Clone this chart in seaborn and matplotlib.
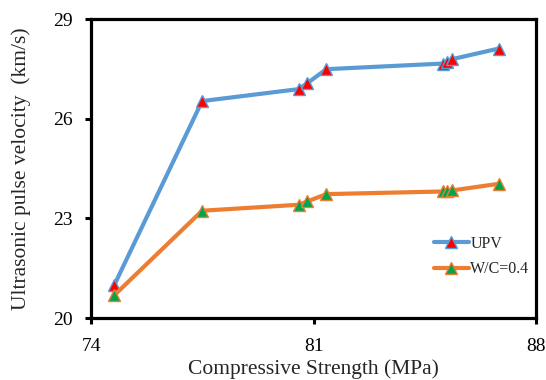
import numpy as np
import pandas as pd
import seaborn as sns
import matplotlib
matplotlib.use("Agg")
import matplotlib.pyplot as plt

# values
strength = [74.73, 77.49, 80.53, 80.80, 81.40, 85.08, 85.19, 85.35, 86.82]
upv = [21.00, 26.53, 26.89, 27.07, 27.49, 27.66, 27.70, 27.79, 28.11]
wc04 = [20.69, 23.23, 23.41, 23.51, 23.73, 23.81, 23.82, 23.84, 24.04]

x_ticks = [74, 81, 88]
y_ticks = [20, 23, 26, 29]

sns.set_style("ticks")
plt.rcParams['font.family'] = ['Liberation Serif', 'DejaVu Serif']

df = pd.DataFrame({'strength': strength, 'UPV': upv, 'W/C=0.4': wc04})

fig = plt.figure(figsize=(5.46, 3.8), dpi=100)
ax = fig.add_axes([0.167, 0.163, 0.815, 0.787])

sns.lineplot(data=df, x='strength', y='UPV', ax=ax, color='#5B9BD5', linewidth=3,
             marker='^', markersize=9, markerfacecolor='#FF0000', markeredgecolor='#5B9BD5',
             markeredgewidth=1, label='UPV')
sns.lineplot(data=df, x='strength', y='W/C=0.4', ax=ax, color='#ED7D31', linewidth=3,
             marker='^', markersize=9, markerfacecolor='#00A550', markeredgecolor='#ED7D31',
             markeredgewidth=1, label='W/C=0.4')

ax.set_xlim(74, 88)
ax.set_ylim(20, 29)
ax.set_xticks(x_ticks)
ax.set_yticks(y_ticks)
ax.tick_params(direction='out', length=4, width=2.2, labelsize=14, colors='black')
ax.tick_params(axis='x', pad=10)
ax.tick_params(axis='y', pad=9)
for s in ax.spines.values():
    s.set_linewidth(2.3)
    s.set_color('black')

ax.set_xlabel("Compressive Strength (MPa)", fontsize=15.5)
ax.set_ylabel("Ultrasonic pulse velocity  (km/s)", fontsize=15.5)
ax.xaxis.set_label_coords(0.5, -0.138)
ax.yaxis.set_label_coords(-0.135, 0.5)

ax.legend(loc='lower right', bbox_to_anchor=(1.017, 0.088), frameon=False, fontsize=11.5,
          handlelength=2.2, handletextpad=0.1, labelspacing=0.6)

fig.savefig("out.png", dpi=100)
